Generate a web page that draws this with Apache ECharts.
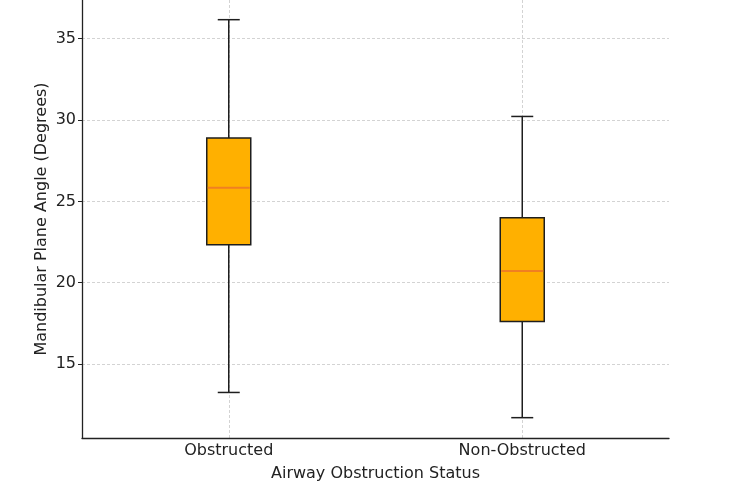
<!DOCTYPE html>
<html>
<head>
<meta charset="utf-8">
<script src="https://cdn.jsdelivr.net/npm/echarts@6/dist/echarts.min.js"></script>
<style>
  html, body { margin: 0; padding: 0; background: #fff; }
  #chart { width: 750px; height: 488px; }
</style>
</head>
<body>
<div id="chart"></div>
<script>
// box stats
const categories = ['Obstructed', 'Non-Obstructed']
const whiskerLow = [13.25, 11.7]
const q1 = [22.33, 17.62]
const median = [25.84, 20.72]
const q3 = [28.89, 23.99]
const whiskerHigh = [36.17, 30.22]
const yTicks = [15, 20, 25, 30, 35]
const xTicks = [1, 2]

const boxData = categories.map((c, i) => [i + 1, whiskerLow[i], q1[i], median[i], q3[i], whiskerHigh[i]])

const chart = echarts.init(document.getElementById('chart'))

const FONT = 'DejaVu Sans'
const gridLine = { show: true, lineStyle: { color: '#c8c8c8', type: [3, 2], width: 0.8 } }

const renderBox = (params, api) => {
  const x = api.value(0)
  const lo = api.coord([x, api.value(1)])
  const b1 = api.coord([x, api.value(2)])
  const md = api.coord([x, api.value(3)])
  const b3 = api.coord([x, api.value(4)])
  const hi = api.coord([x, api.value(5)])
  const cx = lo[0]
  const boxW = 44
  const capW = 22
  const dark = '#1e1e1e'
  const lw = 1.5
  return {
    type: 'group',
    children: [
      { type: 'line', shape: { x1: cx, y1: lo[1], x2: cx, y2: b1[1] }, style: { stroke: dark, lineWidth: lw } },
      { type: 'line', shape: { x1: cx, y1: b3[1], x2: cx, y2: hi[1] }, style: { stroke: dark, lineWidth: lw } },
      { type: 'line', shape: { x1: cx - capW / 2, y1: lo[1], x2: cx + capW / 2, y2: lo[1] }, style: { stroke: dark, lineWidth: lw } },
      { type: 'line', shape: { x1: cx - capW / 2, y1: hi[1], x2: cx + capW / 2, y2: hi[1] }, style: { stroke: dark, lineWidth: lw } },
      { type: 'rect', shape: { x: cx - boxW / 2, y: b3[1], width: boxW, height: b1[1] - b3[1] }, style: { fill: '#FFB000', stroke: dark, lineWidth: lw } },
      { type: 'line', shape: { x1: cx - boxW / 2 + 1, y1: md[1], x2: cx + boxW / 2 - 1, y2: md[1] }, style: { stroke: '#F07F22', lineWidth: 2 } }
    ]
  }
}

const option = {
  animation: false,
  grid: { left: 82, right: 81, top: 0, bottom: 50 },
  xAxis: {
    type: 'value',
    min: 0.5,
    max: 2.5,
    name: 'Airway Obstruction Status',
    nameLocation: 'middle',
    nameGap: 28,
    nameTextStyle: { fontFamily: FONT, fontSize: 16, color: '#222' },
    axisLine: { show: true, onZero: false, lineStyle: { color: '#222', width: 1.3 } },
    axisTick: { show: false, customValues: xTicks },
    axisLabel: {
      customValues: xTicks,
      formatter: v => categories[Math.round(v) - 1] || '',
      fontFamily: FONT, fontSize: 16, color: '#222', margin: 5
    },
    splitLine: gridLine
  },
  yAxis: {
    type: 'value',
    min: 10.45,
    max: 37.38,
    name: 'Mandibular Plane Angle (Degrees)',
    nameLocation: 'middle',
    nameGap: 32,
    nameMoveOverlap: false,
    nameTextStyle: { fontFamily: FONT, fontSize: 16, color: '#222' },
    axisLine: { show: true, lineStyle: { color: '#222', width: 1.3 } },
    axisTick: { show: true, length: 4, customValues: yTicks, lineStyle: { color: '#222' } },
    axisLabel: { customValues: yTicks, fontFamily: FONT, fontSize: 16, color: '#222', margin: 6 },
    splitLine: gridLine
  },
  series: [
    {
      type: 'custom',
      renderItem: renderBox,
      data: boxData,
      encode: { x: 0, y: [1, 2, 3, 4, 5] },
      clip: false
    }
  ]
}

chart.setOption(option)
</script>
</body>
</html>
